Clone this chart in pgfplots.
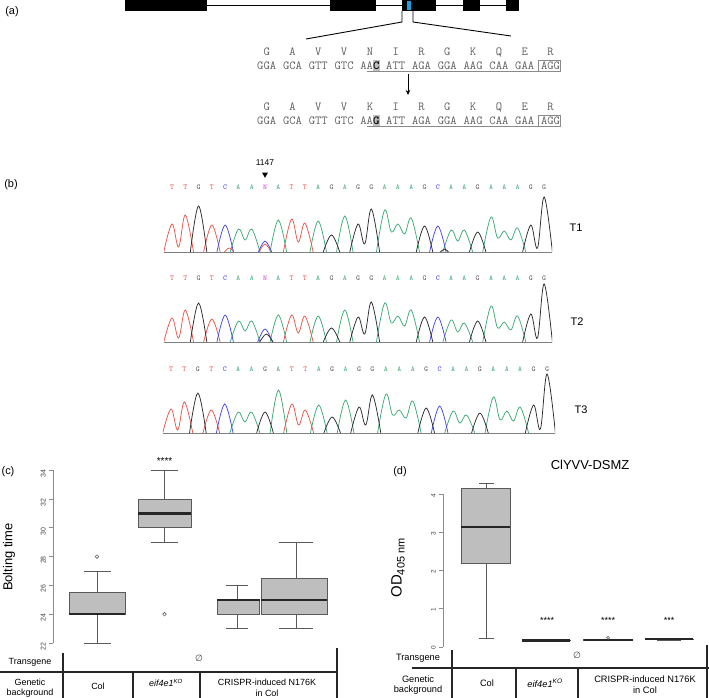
\documentclass[border=0pt]{standalone}
\usepackage{fontspec}
\setmainfont{Liberation Sans}
\newfontfamily\djv{DejaVu Sans}
\usepackage{pgfplots}
\pgfplotsset{compat=1.18}
\usetikzlibrary{arrows.meta}

\definecolor{seqgrey}{HTML}{5E5E5E}
\definecolor{linegrey}{HTML}{8A8A8A}
\definecolor{chT}{HTML}{E8554E}
\definecolor{chA}{HTML}{3DAA78}
\definecolor{chC}{HTML}{4646E6}
\definecolor{chG}{HTML}{2B2B2B}
\definecolor{chN}{HTML}{E050E0}
\definecolor{exonblue}{HTML}{1EA0DC}
\definecolor{boxfill}{HTML}{BEBEBE}
\definecolor{boxline}{HTML}{5A5A5A}
\colorlet{lT}{chT!90}
\colorlet{lA}{chA!90}
\colorlet{lC}{chC!90}
\colorlet{lG}{black!60}
\colorlet{lN}{chN}

\newcommand\seqfont{\ttfamily\fontsize{12.3}{13}\selectfont}
\newcommand\basefont{\ttfamily\bfseries\fontsize{7.5}{7.5}\selectfont}
\newcommand\baserow[4]{%
  \foreach \b [count=\i from 0] in {#4} {\node[font=\basefont, text=l\b, inner sep=0pt] at ({#1+#2*\i},#3) {\b};}}

\pgfplotsset{
  tr/.style={smooth, tension=0.6, line width=0.75bp, draw=#1},
  chrom/.style={scale only axis, hide axis, anchor=origin, xmin=-0.6, xmax=28.6,
    ymin=-1.5, ymax=62, height=63.5bp, unbounded coords=jump},
  bx/.style={scale only axis, clip=false, hide x axis, axis y line*=left,
    y axis line style={draw=none}, unbounded coords=jump,
    tick align=outside, major tick length=3.8bp,
    ytick style={draw=black!45, line width=0.7bp},
    /pgf/number format/assume math mode=true},
  rbox/.style={fill=boxfill, draw=boxline, line width=0.8bp},
  rwhisk/.style={draw=boxline, line width=0.8bp},
  rmed/.style={draw=black!85, line width=2.2bp},
}

\begin{document}
\begin{tikzpicture}[x=1bp, y=-1bp]
\useasboundingbox (0,0) rectangle (709,698);

% ---------- (a) gene model ----------
\begin{axis}[at={(0bp,0bp)}, anchor=north west, scale only axis, width=709bp, height=698bp,
  xmin=0, xmax=709, ymin=0, ymax=698, y dir=reverse, hide axis, clip=false]
\addplot[draw=black, line width=1.3bp] coordinates {(207,5.5)(506,5.5)};
\addplot[fill=black, draw=none] coordinates {(125,0.5)(207,0.5)(207,11)(125,11)} --cycle;
\addplot[fill=black, draw=none] coordinates {(330,0.5)(376,0.5)(376,11)(330,11)} --cycle;
\addplot[fill=black, draw=none] coordinates {(402,0.5)(436,0.5)(436,11)(402,11)} --cycle;
\addplot[fill=black, draw=none] coordinates {(463,0.5)(480,0.5)(480,11)(463,11)} --cycle;
\addplot[fill=black, draw=none] coordinates {(506,0.5)(519,0.5)(519,11)(506,11)} --cycle;
\addplot[fill=exonblue, draw=none] coordinates {(407,1.5)(411,1.5)(411,10)(407,10)} --cycle;
\addplot[draw=black, line width=0.9bp] coordinates {(402,11)(402,22)(306,39)};
\addplot[draw=black, line width=0.9bp] coordinates {(413,11)(413,22)(511,36)};
\end{axis}

\node[font=\fontsize{11}{11}\selectfont] at (12,12) {(a)};

% sequences
\fill[black!25] (373.1,60.5) rectangle (379.55,71);
\fill[black!25] (373.1,115.5) rectangle (379.55,126);
\foreach \a [count=\k from 0] in {G,A,V,V,N,I,R,G,K,Q,E,R}
  \node[font=\seqfont, text=seqgrey, anchor=base, inner sep=0pt] at ({266.7+25.8*\k},55.7) {\a};
\foreach \c [count=\k from 0] in {GGA,GCA,GTT,GTC,{AA{\color{black}\bfseries C}},ATT,AGA,GGA,AAG,CAA,GAA,AGG}
  \node[font=\seqfont, text=seqgrey, anchor=base, inner sep=0pt] at ({266.7+25.8*\k},69.7) {\c};
\foreach \a [count=\k from 0] in {G,A,V,V,K,I,R,G,K,Q,E,R}
  \node[font=\seqfont, text=seqgrey, anchor=base, inner sep=0pt] at ({266.7+25.8*\k},110.7) {\a};
\foreach \c [count=\k from 0] in {GGA,GCA,GTT,GTC,{AA{\color{black}\bfseries G}},ATT,AGA,GGA,AAG,CAA,GAA,AGG}
  \node[font=\seqfont, text=seqgrey, anchor=base, inner sep=0pt] at ({266.7+25.8*\k},124.7) {\c};
\draw[linegrey, line width=0.7bp] (366.6,71) -- (538.8,71);
\draw[linegrey, line width=0.7bp] (538.8,60.5) rectangle (560.6,71);
\draw[linegrey, line width=0.7bp] (366.6,126) -- (538.8,126);
\draw[linegrey, line width=0.7bp] (538.8,115.5) rectangle (560.6,126);
\draw[-{Stealth[length=5bp,width=4.5bp]}, line width=0.8bp] (408,74) -- (408,95);

% ---------- (b) chromatograms ----------
\node[font=\fontsize{11}{11}\selectfont] at (11,185) {(b)};
\node[font=\fontsize{8.5}{8.5}\selectfont] at (265,163) {1147};
\fill (262,172.5) -- (268,172.5) -- (265,177.8) -- cycle;

\baserow{172}{13.29}{187}{T,T,G,T,C,A,A,N,A,T,T,A,G,A,G,G,A,A,A,G,C,A,A,G,A,A,A,G,G}
\baserow{172}{13.29}{278}{T,T,G,T,C,A,A,N,A,T,T,A,G,A,G,G,A,A,A,G,C,A,A,G,A,A,A,G,G}
\baserow{171}{13.43}{369}{T,T,G,T,C,A,A,G,A,T,T,A,G,A,G,G,A,A,A,G,C,A,A,G,A,A,A,G,G}

\node[font=\fontsize{11}{11}\selectfont] at (576,228) {T1};
\node[font=\fontsize{11}{11}\selectfont] at (577,322) {T2};
\node[font=\fontsize{11}{11}\selectfont] at (581,410) {T3};

% T1
\begin{axis}[chrom, at={(172bp,-252bp)}, width=388.1bp]
\addplot[black!50, line width=0.9bp] coordinates {(-0.6,0)(28.6,0)};
\addplot[tr=chT] coordinates {(-0.62,0)(0,28)(0.5,5)(1,37)(1.62,0) (1.7,nan) (2.38,0)(3,27)(3.62,0) (3.7,nan) (3.95,0)(4.3,4)(4.65,0) (4.7,nan) (6.55,0)(7,8)(7.45,0) (7.5,nan) (8.38,0)(9,33)(9.5,10)(10,29)(10.62,0)};
\addplot[tr=chA] coordinates {(4.38,0)(5,23)(5.5,12)(6,23)(6.62,0) (6.7,nan) (7.38,0)(8,32)(8.62,0) (8.7,nan) (10.38,0)(11,31)(11.62,0) (11.7,nan) (12.38,0)(13,36)(13.62,0) (13.7,nan) (15.38,0)(16,42)(16.5,20)(17,28)(17.5,18)(18,34)(18.62,0) (18.7,nan) (20.38,0)(21,22)(21.5,11)(22,22)(22.62,0) (22.7,nan) (23.38,0)(24,35)(24.5,14)(25,21)(25.5,12)(26,24)(26.62,0)};
\addplot[tr=chC] coordinates {(3.38,0)(4,27)(4.62,0) (4.7,nan) (6.5,0)(7,11)(7.5,0) (7.6,nan) (19.38,0)(20,26)(20.62,0)};
\addplot[tr=chG] coordinates {(1.38,0)(2,46)(2.62,0) (2.7,nan) (11.38,0)(12,17)(12.62,0) (12.7,nan) (13.38,0)(14,28)(14.5,8)(15,43)(15.62,0) (15.7,nan) (18.38,0)(19,26)(19.62,0) (19.7,nan) (20.2,0)(20.5,3)(20.8,0) (20.9,nan) (22.38,0)(23,20)(23.62,0) (23.7,nan) (26.38,0)(27,27)(27.5,4)(28,55)(28.62,0)};
\end{axis}

% T2
\begin{axis}[chrom, at={(172bp,-342bp)}, width=388.1bp]
\addplot[black!50, line width=0.9bp] coordinates {(-0.6,0)(28.6,0)};
\addplot[tr=chT] coordinates {(-0.62,0)(0,24)(0.5,4)(1,32)(1.62,0) (1.7,nan) (2.38,0)(3,23)(3.62,0) (3.7,nan) (8.38,0)(9,27)(9.5,9)(10,26)(10.62,0)};
\addplot[tr=chA] coordinates {(4.38,0)(5,21)(5.5,11)(6,21)(6.62,0) (6.7,nan) (7.38,0)(8,27)(8.62,0) (8.7,nan) (10.38,0)(11,26)(11.62,0) (11.7,nan) (12.38,0)(13,32)(13.62,0) (13.7,nan) (15.38,0)(16,39)(16.5,19)(17,26)(17.5,16)(18,32)(18.62,0) (18.7,nan) (20.38,0)(21,22)(21.5,10)(22,19)(22.62,0) (22.7,nan) (23.38,0)(24,36)(24.5,14)(25,20)(25.5,12)(26,26)(26.62,0)};
\addplot[tr=chC] coordinates {(3.38,0)(4,27)(4.62,0) (4.7,nan) (6.45,0)(7,13)(7.55,0) (7.6,nan) (19.38,0)(20,25)(20.62,0)};
\addplot[tr=chG] coordinates {(1.38,0)(2,39)(2.62,0) (2.7,nan) (6.6,0)(7.1,8)(7.6,0) (7.7,nan) (11.38,0)(12,14)(12.62,0) (12.7,nan) (13.38,0)(14,25)(14.5,8)(15,40)(15.62,0) (15.7,nan) (18.38,0)(19,25)(19.62,0) (19.7,nan) (22.38,0)(23,21)(23.62,0) (23.7,nan) (26.38,0)(27,28)(27.5,4)(28,58)(28.62,0)};
\end{axis}

% T3
\begin{axis}[chrom, at={(171bp,-433bp)}, width=392.2bp]
\addplot[black!50, line width=0.9bp] coordinates {(-0.6,0)(28.6,0)};
\addplot[tr=chT] coordinates {(-0.62,0)(0,24)(0.5,3)(1,31)(1.62,0) (1.7,nan) (2.38,0)(3,23)(3.62,0) (3.7,nan) (8.38,0)(9,29)(9.5,8)(10,23)(10.62,0)};
\addplot[tr=chA] coordinates {(4.38,0)(5,21)(5.5,11)(6,21)(6.62,0) (6.7,nan) (7.38,0)(8,43)(8.62,0) (8.7,nan) (10.38,0)(11,28)(11.62,0) (11.7,nan) (12.38,0)(13,33)(13.62,0) (13.7,nan) (15.38,0)(16,39)(16.5,18)(17,23)(17.5,15)(18,32)(18.62,0) (18.7,nan) (20.38,0)(21,22)(21.5,10)(22,18)(22.62,0) (22.7,nan) (23.38,0)(24,36)(24.5,13)(25,22)(25.5,12)(26,26)(26.62,0)};
\addplot[tr=chC] coordinates {(3.38,0)(4,29)(4.62,0) (4.7,nan) (19.38,0)(20,27)(20.62,0)};
\addplot[tr=chG] coordinates {(1.38,0)(2,40)(2.62,0) (2.7,nan) (6.38,0)(7,21)(7.62,0) (7.7,nan) (11.38,0)(12,16)(12.62,0) (12.7,nan) (13.38,0)(14,26)(14.5,8)(15,38)(15.62,0) (15.7,nan) (18.38,0)(19,25)(19.62,0) (19.7,nan) (22.38,0)(23,20)(23.62,0) (23.7,nan) (26.38,0)(27,28)(27.5,4)(28,59)(28.62,0)};
\end{axis}

% ---------- (c) bolting time ----------
\node[font=\fontsize{11}{11}\selectfont] at (8,472) {(c)};
\node[rotate=90, font=\fontsize{13}{13}\selectfont] at (9,557) {Bolting time};
\begin{axis}[bx, at={(53bp,-650.2bp)}, anchor=south west, width=287bp, height=187.2bp,
  xmin=53, xmax=340, ymin=21.5, ymax=34.5,
  ytick={22,24,...,34},
  yticklabel style={rotate=90, anchor=south, xshift=-3.5bp, font=\fontsize{7}{7}\selectfont, text=black!75}]
\addplot[black!45, line width=0.7bp] coordinates {(53,22) (53,34)};
% Col
\addplot[rbox] coordinates {(69,24)(125,24)(125,25.5)(69,25.5)} --cycle;
\addplot[rwhisk] coordinates {(97,22)(97,24) (97,nan) (97,25.5)(97,27) (97,nan) (84,22)(111,22) (97,nan) (84,27)(111,27)};
\addplot[rmed] coordinates {(69,24)(125,24)};
% eif4e1 KO
\addplot[rbox] coordinates {(138,30)(191,30)(191,32)(138,32)} --cycle;
\addplot[rwhisk] coordinates {(164.5,29)(164.5,30) (164.5,nan) (164.5,32)(164.5,34) (164.5,nan) (151,29)(178,29) (164.5,nan) (151,34)(178,34)};
\addplot[rmed] coordinates {(138,31)(191,31)};
% N176K line 1
\addplot[rbox] coordinates {(217,24)(259.5,24)(259.5,25)(217,25)} --cycle;
\addplot[rwhisk] coordinates {(237,23)(237,24) (237,nan) (237,25)(237,26) (237,nan) (226,23)(248,23) (237,nan) (226,26)(248,26)};
\addplot[rmed] coordinates {(217,25)(259.5,25)};
% N176K line 2
\addplot[rbox] coordinates {(261,24)(327,24)(327,26.5)(261,26.5)} --cycle;
\addplot[rwhisk] coordinates {(296,23)(296,24) (296,nan) (296,26.5)(296,29) (296,nan) (279,23)(313,23) (296,nan) (279,29)(313,29)};
\addplot[rmed] coordinates {(261,25)(327,25)};
\addplot[only marks, mark=o, mark size=1.8bp, mark options={draw=black!60, line width=0.6bp}]
  coordinates {(97,28) (164.5,24)};
\node[font=\fontsize{10}{10}\selectfont] at (axis cs:164.5,34.65) {****};
\end{axis}

% table (c)
\begin{scope}[line width=1.6bp, black!85]
\draw (0,672) -- (337,672);
\draw (63,653) -- (63,698);
\draw (337,648) -- (337,698);
\draw (133,672) -- (133,698);
\draw (200,672) -- (200,698);
\end{scope}
\begin{scope}[every node/.style={font=\fontsize{9}{9}\selectfont, inner sep=0pt}]
\node at (30,662) {Transgene};
\node[font=\djv\itshape\fontsize{9}{9}\selectfont, text=black!75] at (199,658) {∅};
\node at (30,682) {Genetic};
\node at (30,693) {background};
\node at (98,686) {Col};
\node at (166,683) {\textit{eif4e1}\textsuperscript{\textit{KO}}};
\node at (267,682) {CRISPR-induced N176K};
\node at (267,693) {in Col};
\end{scope}

% ---------- (d) ClYVV ----------
\node[font=\fontsize{11}{11}\selectfont] at (400,472) {(d)};
\node[font=\fontsize{13}{13}\selectfont] at (590,465) {ClYVV-DSMZ};
\node[rotate=90] at (398,568) {{\fontsize{15}{15}\selectfont OD}\raisebox{-0.6ex}{\fontsize{11}{11}\selectfont 405 nm}};
% x data in (d) are pixels measured from the axis line at x=443
\begin{axis}[bx, at={(443bp,-648.9bp)}, anchor=south west, width=266bp, height=171.9bp,
  xmin=0, xmax=266, ymin=-0.05, ymax=4.45,
  ytick={0,1,2,3,4},
  yticklabel style={rotate=90, anchor=south, xshift=-1bp, font=\fontsize{6.5}{6.5}\selectfont, text=black!75}]
\addplot[black!45, line width=0.7bp] coordinates {(0,0) (0,4)};
% Col
\addplot[rbox] coordinates {(18,2.2)(67,2.2)(67,4.14)(18,4.14)} --cycle;
\addplot[rwhisk] coordinates {(43,0.22)(43,2.2) (43,nan) (43,4.14)(43,4.28) (43,nan) (36,0.22)(51,0.22) (43,nan) (36,4.28)(51,4.28)};
\addplot[rmed] coordinates {(18,3.14)(67,3.14)};
% eif4e1 KO
\addplot[rbox] coordinates {(79,0.16)(127,0.16)(127,0.18)(79,0.18)} --cycle;
\addplot[rwhisk] coordinates {(91,0.15)(115,0.15) (103,nan) (91,0.19)(115,0.19)};
\addplot[rmed] coordinates {(79,0.17)(127,0.17)};
% N176K line 1
\addplot[rbox] coordinates {(140.5,0.17)(189.5,0.17)(189.5,0.19)(140.5,0.19)} --cycle;
\addplot[rwhisk] coordinates {(153,0.16)(177,0.16) (165,nan) (153,0.2)(177,0.2)};
\addplot[rmed] coordinates {(140.5,0.18)(189.5,0.18)};
% N176K line 2
\addplot[rbox] coordinates {(202,0.19)(250,0.19)(250,0.21)(202,0.21)} --cycle;
\addplot[rwhisk] coordinates {(214,0.18)(238,0.18) (226,nan) (214,0.22)(238,0.22)};
\addplot[rmed] coordinates {(202,0.2)(250,0.2)};
\addplot[only marks, mark=o, mark size=1.5bp, mark options={draw=black!60, line width=0.6bp}]
  coordinates {(165,0.24)};
\node[font=\fontsize{9}{9}\selectfont] at (axis cs:104,0.7) {****};
\node[font=\fontsize{9}{9}\selectfont] at (axis cs:165,0.7) {****};
\node[font=\fontsize{9}{9}\selectfont] at (axis cs:226,0.7) {***};
\end{axis}

% table (d)
\begin{scope}[line width=1.6bp, black!85]
\draw (412,668) -- (709,668);
\draw (452,650) -- (452,698);
\draw (707,645) -- (707,698);
\draw (516,668) -- (516,698);
\draw (578,668) -- (578,698);
\end{scope}
\begin{scope}[every node/.style={font=\fontsize{9.3}{9.3}\selectfont, inner sep=0pt}]
\node at (418,658) {Transgene};
\node[font=\djv\itshape\fontsize{9}{9}\selectfont, text=black!75] at (577,655) {∅};
\node at (418,679) {Genetic};
\node at (418,690) {background};
\node at (487,683) {Col};
\node at (545,683) {\textit{eif4e1}\textsuperscript{\textit{KO}}};
\node at (645,679) {CRISPR-induced N176K};
\node at (645,690) {in Col};
\end{scope}

\end{tikzpicture}
\end{document}
